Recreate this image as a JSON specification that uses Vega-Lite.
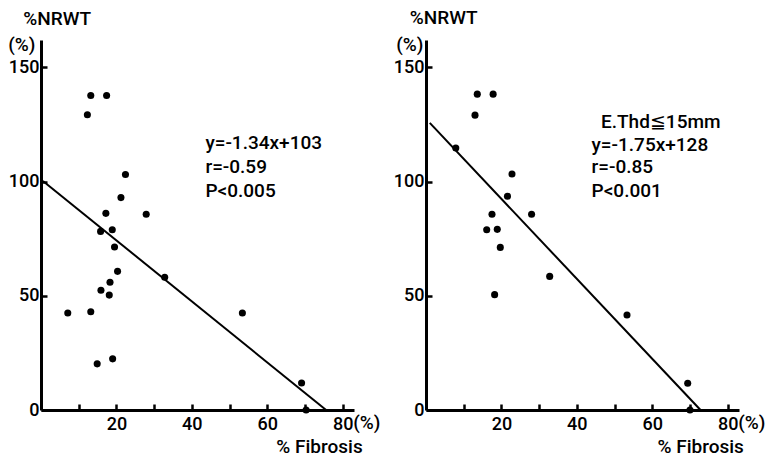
{
  "$schema": "https://vega.github.io/schema/vega-lite/v6.json",
  "background": "white",
  "padding": {"left": 8, "top": 8, "right": 2, "bottom": 2},
  "spacing": 72,
  "bounds": "flush",
  "config": {
    "view": {"stroke": null},
    "font": "Roboto",
    "axis": {
      "grid": false,
      "domainColor": "black",
      "domainWidth": 3,
      "labelFontSize": 18,
      "labelFontWeight": 500,
      "labelColor": "black",
      "labelFont": "Roboto",
      "title": null
    },
    "text": {"font": "Roboto", "fontSize": 19, "fontWeight": 500, "align": "left", "baseline": "middle", "color": "black"}
  },
  "hconcat": [
    {
      "width": 313,
      "height": 370,
      "layer": [
        {
          "data": {"values": [
            {"fibrosis": 13.2, "nrwt": 137.7}, {"fibrosis": 17.4, "nrwt": 137.7}, {"fibrosis": 12.3, "nrwt": 129.3},
            {"fibrosis": 22.4, "nrwt": 103.1}, {"fibrosis": 21.2, "nrwt": 93.0}, {"fibrosis": 17.2, "nrwt": 86.1},
            {"fibrosis": 27.9, "nrwt": 85.7}, {"fibrosis": 15.8, "nrwt": 78.2}, {"fibrosis": 18.9, "nrwt": 78.9},
            {"fibrosis": 19.5, "nrwt": 71.4}, {"fibrosis": 20.3, "nrwt": 60.7}, {"fibrosis": 18.3, "nrwt": 55.9},
            {"fibrosis": 15.9, "nrwt": 52.4}, {"fibrosis": 18.1, "nrwt": 50.3}, {"fibrosis": 32.8, "nrwt": 58.1},
            {"fibrosis": 7.1, "nrwt": 42.5}, {"fibrosis": 13.2, "nrwt": 43.0}, {"fibrosis": 14.9, "nrwt": 20.2},
            {"fibrosis": 19.0, "nrwt": 22.4}, {"fibrosis": 53.4, "nrwt": 42.5}, {"fibrosis": 69.1, "nrwt": 11.8},
            {"fibrosis": 70.3, "nrwt": 0}
          ]},
          "mark": {"type": "point", "filled": true, "size": 50, "color": "black", "opacity": 1, "clip": false},
          "encoding": {
            "x": {"field": "fibrosis", "type": "quantitative",
                  "scale": {"domain": [0, 83], "nice": false, "zero": false},
                  "axis": {"values": [10, 20, 30, 40, 50, 60, 70, 80], "labelExpr": "datum.value % 20 == 0 ? datum.label : ''",
                           "ticks": true, "tickSize": -6, "tickWidth": 2.5, "tickColor": "black", "labelPadding": 11}},
            "y": {"field": "nrwt", "type": "quantitative",
                  "scale": {"domain": [0, 162], "nice": false},
                  "axis": {"values": [0, 50, 100, 150],
                           "ticks": true, "tickSize": -6, "tickWidth": 2.5, "tickColor": "black", "labelPadding": 8}}
          }
        },
        {
          "data": {"values": [{"fibrosis": 0.5, "nrwt": 100.3}, {"fibrosis": 75.6, "nrwt": 0}]},
          "mark": {"type": "line", "color": "black", "strokeWidth": 2, "clip": false},
          "encoding": {
            "x": {"field": "fibrosis", "type": "quantitative"},
            "y": {"field": "nrwt", "type": "quantitative"}
          }
        },
        {
          "data": {"values": [
            {"label": "y=-1.34x+103", "fibrosis": 43.6, "nrwt": 117},
            {"label": "r=-0.59", "fibrosis": 43.6, "nrwt": 106.4},
            {"label": "P<0.005", "fibrosis": 43.6, "nrwt": 95.9},
            {"label": "%NRWT", "fibrosis": -4.7, "nrwt": 171},
            {"label": "(%)", "fibrosis": -8.7, "nrwt": 160},
            {"label": "(%)", "fibrosis": 82.8, "nrwt": -5.8},
            {"label": "% Fibrosis", "fibrosis": 62.4, "nrwt": -16}
          ]},
          "mark": {"type": "text", "clip": false},
          "encoding": {
            "x": {"field": "fibrosis", "type": "quantitative"},
            "y": {"field": "nrwt", "type": "quantitative"},
            "text": {"field": "label"}
          }
        }
      ]
    },
    {
      "width": 313,
      "height": 370,
      "layer": [
        {
          "data": {"values": [
            {"fibrosis": 13.6, "nrwt": 138.3}, {"fibrosis": 17.8, "nrwt": 138.3}, {"fibrosis": 13.0, "nrwt": 129.1},
            {"fibrosis": 7.9, "nrwt": 114.7}, {"fibrosis": 22.8, "nrwt": 103.3}, {"fibrosis": 21.6, "nrwt": 93.6},
            {"fibrosis": 17.5, "nrwt": 85.7}, {"fibrosis": 28.0, "nrwt": 85.7}, {"fibrosis": 16.1, "nrwt": 78.9},
            {"fibrosis": 18.9, "nrwt": 79.1}, {"fibrosis": 19.7, "nrwt": 71.2}, {"fibrosis": 32.8, "nrwt": 58.5},
            {"fibrosis": 18.2, "nrwt": 50.5}, {"fibrosis": 53.3, "nrwt": 41.6}, {"fibrosis": 69.4, "nrwt": 11.7},
            {"fibrosis": 70.0, "nrwt": 0}
          ]},
          "mark": {"type": "point", "filled": true, "size": 50, "color": "black", "opacity": 1, "clip": false},
          "encoding": {
            "x": {"field": "fibrosis", "type": "quantitative",
                  "scale": {"domain": [0, 83], "nice": false, "zero": false},
                  "axis": {"values": [10, 20, 30, 40, 50, 60, 70, 80], "labelExpr": "datum.value % 20 == 0 ? datum.label : ''",
                           "ticks": true, "tickSize": -6, "tickWidth": 2.5, "tickColor": "black", "labelPadding": 11}},
            "y": {"field": "nrwt", "type": "quantitative",
                  "scale": {"domain": [0, 162], "nice": false},
                  "axis": {"values": [0, 50, 100, 150],
                           "ticks": true, "tickSize": -6, "tickWidth": 2.5, "tickColor": "black", "labelPadding": 8}}
          }
        },
        {
          "data": {"values": [{"fibrosis": 1.0, "nrwt": 125.7}, {"fibrosis": 72.8, "nrwt": 0}]},
          "mark": {"type": "line", "color": "black", "strokeWidth": 2, "clip": false},
          "encoding": {
            "x": {"field": "fibrosis", "type": "quantitative"},
            "y": {"field": "nrwt", "type": "quantitative"}
          }
        },
        {
          "data": {"values": [
            {"label": "E.Thd≦15mm", "fibrosis": 46.4, "nrwt": 126.3},
            {"label": "y=-1.75x+128", "fibrosis": 43.9, "nrwt": 116},
            {"label": "r=-0.85", "fibrosis": 43.9, "nrwt": 106.2},
            {"label": "P<0.001", "fibrosis": 43.9, "nrwt": 96},
            {"label": "%NRWT", "fibrosis": -4.3, "nrwt": 171.7},
            {"label": "(%)", "fibrosis": -7.9, "nrwt": 160},
            {"label": "(%)", "fibrosis": 82.8, "nrwt": -5.8},
            {"label": "% Fibrosis", "fibrosis": 61.4, "nrwt": -16}
          ]},
          "mark": {"type": "text", "clip": false},
          "encoding": {
            "x": {"field": "fibrosis", "type": "quantitative"},
            "y": {"field": "nrwt", "type": "quantitative"},
            "text": {"field": "label"}
          }
        }
      ]
    }
  ]
}
